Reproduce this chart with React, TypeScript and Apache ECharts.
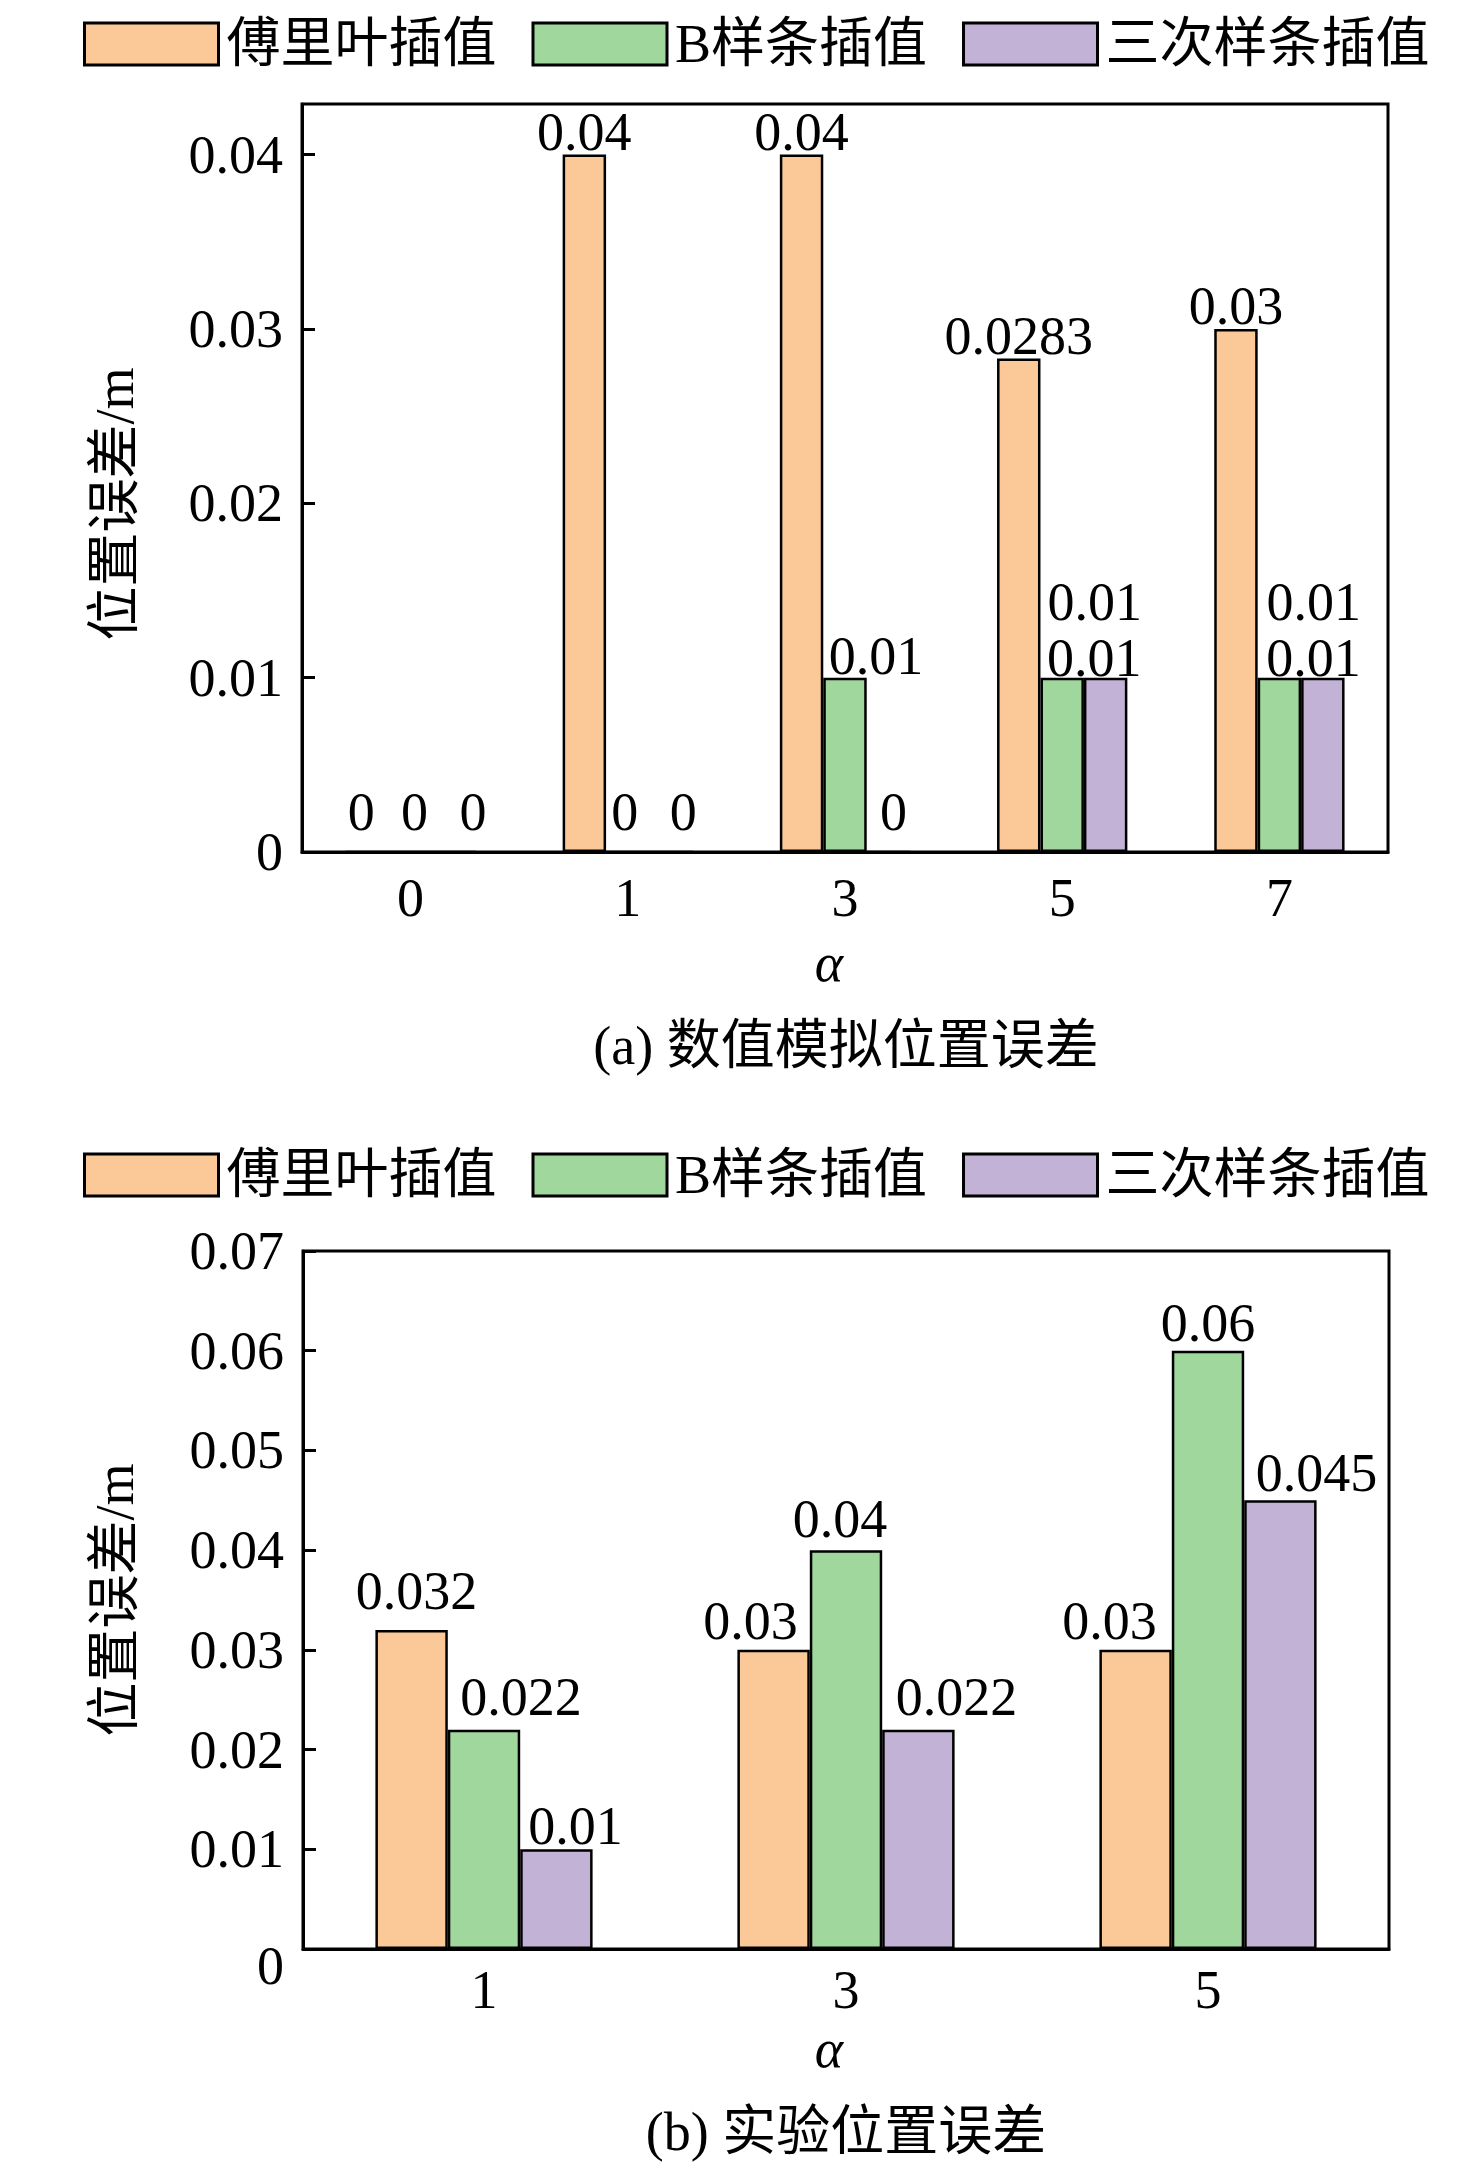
import React, { useEffect, useRef } from "react";
import * as echarts from "echarts";

// (a) 数值模拟位置误差
const categoriesA = ["0", "1", "3", "5", "7"];
const fourierA = [0, 0.04, 0.04, 0.0283, 0.03];
const bsplineA = [0, 0, 0.01, 0.01, 0.01];
const cubicA = [0, 0, 0, 0.01, 0.01];
const yMaxA = 0.0429;

// (b) 实验位置误差
const categoriesB = ["1", "3", "5"];
const fourierB = [0.032, 0.03, 0.03];
const bsplineB = [0.022, 0.04, 0.06];
const cubicB = [0.01, 0.022, 0.045];
const yMaxB = 0.07;

const yInterval = 0.01;
const seriesNames = ["傅里叶插值", "B样条插值", "三次样条插值"];
const colors = ["#FBC897", "#9FD79C", "#C2B2D6"];

// label nudges [dx, dy] so labels sit like the original figure
const offsetsA = [
  [[-6, -12], [0, 4], [0, 4], [0, 4], [0, 4]],
  [[4, -12], [-3, -12], [31, 5], [32, 7], [34, 7]],
  [[19, -12], [12, -12], [5, -12], [-11, -49], [-9, -49]],
];
const offsetsB = [
  [[5, -12], [-23, -2], [-26, -2]],
  [[37, -6], [-6, -4], [0, -1]],
  [[19, 4], [38, -6], [36, 0]],
];

const FONT = "'Liberation Serif', 'Times New Roman', 'Noto Sans CJK SC', serif";
const FS = 54;

const fmt = (v: number) => (v === 0 ? "0" : String(+v.toFixed(4)));

const App: React.FC = () => {
  const chartRef = useRef<HTMLDivElement>(null);

  useEffect(() => {
    document.body.style.margin = "0";
    const chart = echarts.init(chartRef.current, null, { renderer: "svg" });

    const makeSeries = (values: number[][], offsets: number[][][], idx: number) =>
      values.map((vals, i) => ({
        name: seriesNames[i],
        type: "bar",
        xAxisIndex: idx,
        yAxisIndex: idx,
        barGap: "0%",
        barCategoryGap: "40%",
        itemStyle: { color: colors[i], borderColor: "#000", borderWidth: 2.5 },
        label: {
          show: true,
          position: "top",
          distance: 0,
          color: "#000",
          fontSize: FS,
          fontFamily: FONT,
          formatter: (p: any) => fmt(p.value),
        },
        data: vals.map((v, j) => ({ value: v, label: { offset: offsets[i][j] } })),
      }));

    const textStyle = { color: "#000", fontSize: FS, fontFamily: FONT };

    const xAxisBase = (data: string[], idx: number, margin: number) => ({
      type: "category",
      gridIndex: idx,
      data,
      axisLine: { lineStyle: { color: "#000", width: 3 } },
      axisTick: { inside: true, length: 8, alignWithLabel: true, lineStyle: { color: "#000", width: 3 } },
      axisLabel: { ...textStyle, margin },
    });

    const yAxisBase = (idx: number, max: number, shiftZero: boolean) => ({
      type: "value",
      gridIndex: idx,
      min: 0,
      max,
      interval: yInterval,
      splitLine: { show: false },
      axisLine: { show: true, lineStyle: { color: "#000", width: 3 } },
      axisTick: { show: true, inside: true, length: 13, lineStyle: { color: "#000", width: 3 } },
      axisLabel: {
        ...textStyle,
        margin: 19,
        showMaxLabel: max === yMaxB,
        formatter: (v: number) => (v === 0 && shiftZero ? "{z|0}" : fmt(v)),
        rich: { z: { fontSize: FS, fontFamily: FONT, color: "#000", padding: [34, 0, 0, 0] } },
      },
    });

    const legendBase = (top: number) => ({
      top,
      left: 83,
      padding: 0,
      itemWidth: 134,
      itemHeight: 42,
      itemGap: 35,
      icon: "rect",
      itemStyle: { borderColor: "#000", borderWidth: 3 },
      textStyle: { ...textStyle, padding: [0, 0, 0, 3] },
      data: seriesNames,
    });

    const label = (text: string, x: number, y: number, extra: any = {}) => ({
      type: "text",
      x,
      y,
      ...extra,
      style: {
        text,
        fill: "#000",
        fontSize: FS,
        fontFamily: FONT,
        align: "center",
        verticalAlign: "middle",
        ...(extra.style || {}),
      },
    });

    chart.setOption({
      animation: false,
      backgroundColor: "#fff",
      legend: [legendBase(17), legendBase(1148)],
      grid: [
        { left: 302, top: 104, width: 1086, height: 748, show: true, borderColor: "#000", borderWidth: 3 },
        { left: 303, top: 1251, width: 1086, height: 698, show: true, borderColor: "#000", borderWidth: 3 },
      ],
      xAxis: [xAxisBase(categoriesA, 0, 19), xAxisBase(categoriesB, 1, 14)],
      yAxis: [yAxisBase(0, yMaxA, false), yAxisBase(1, yMaxB, true)],
      series: [
        ...makeSeries([fourierA, bsplineA, cubicA], offsetsA, 0),
        ...makeSeries([fourierB, bsplineB, cubicB], offsetsB, 1),
      ],
      graphic: [
        label("位置误差/m", 115, 504, { rotation: Math.PI / 2 }),
        label("位置误差/m", 115, 1600, { rotation: Math.PI / 2 }),
        label("α", 829, 963, { style: { fontStyle: "italic" } }),
        label("α", 829, 2049, { style: { fontStyle: "italic" } }),
        label("(a) 数值模拟位置误差", 846, 1046),
        label("(b) 实验位置误差", 846, 2132),
      ],
    });

    return () => {
      chart.dispose();
    };
  }, []);

  return <div ref={chartRef} style={{ width: 1476, height: 2164 }} />;
};

export default App;
